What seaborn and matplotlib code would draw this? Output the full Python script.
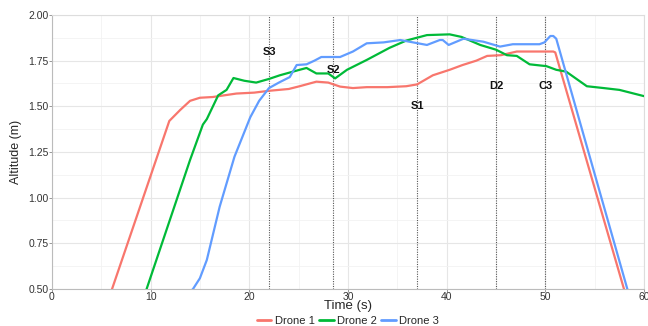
import numpy as np
import pandas as pd
import matplotlib
matplotlib.use("Agg")
import matplotlib.pyplot as plt
import seaborn as sns

# ---- data ----
drone1_t = [5.0, 6.1, 11.9, 13.0, 14.0, 15.0, 16.3, 18.7, 20.5, 22.0, 24.0, 25.1, 26.8, 28.0, 29.2,
            30.5, 31.9, 34.0, 35.9, 37.0, 38.6, 40.3, 41.6, 43.0, 44.1, 45.5, 47.1, 49.0, 50.8, 51.0,
            57.96, 58.5]
drone1_v = [0.32, 0.50, 1.42, 1.48, 1.53, 1.547, 1.551, 1.57, 1.575, 1.585, 1.595, 1.61, 1.635, 1.63, 1.608,
            1.60, 1.605, 1.605, 1.61, 1.62, 1.67, 1.70, 1.726, 1.75, 1.776, 1.78, 1.80, 1.80, 1.80, 1.795,
            0.50, 0.40]

drone2_t = [9.0, 9.6, 14.0, 15.3, 15.7, 16.85, 17.7, 18.4, 19.5, 20.7, 22.0, 23.1, 25.1, 25.8, 26.8,
            28.0, 28.7, 29.9, 31.9, 34.2, 35.9, 38.0, 40.3, 41.5, 43.4, 45.0, 46.1, 47.1, 48.4, 50.1,
            51.1, 52.1, 54.2, 55.9, 57.5, 59.9, 60.5]
drone2_v = [0.40, 0.50, 1.206, 1.40, 1.43, 1.56, 1.59, 1.655, 1.64, 1.63, 1.65, 1.67, 1.70, 1.71, 1.68,
            1.68, 1.653, 1.70, 1.754, 1.82, 1.86, 1.89, 1.894, 1.88, 1.836, 1.81, 1.78, 1.776, 1.73, 1.72,
            1.70, 1.69, 1.61, 1.60, 1.59, 1.557, 1.55]

drone3_t = [13.5, 14.3, 15.0, 15.7, 17.0, 18.5, 20.1, 21.0, 22.0, 23.0, 24.1, 24.8, 25.8, 26.6, 27.3,
            28.2, 29.2, 30.5, 31.9, 33.6, 35.3, 36.6, 38.0, 39.3, 39.6, 40.2, 41.7, 43.7, 45.4, 46.7,
            49.4, 49.9, 50.5, 50.8, 51.1, 58.3, 58.8]
drone3_v = [0.46, 0.50, 0.559, 0.659, 0.95, 1.224, 1.44, 1.53, 1.60, 1.63, 1.66, 1.726, 1.73, 1.75, 1.77,
            1.77, 1.77, 1.80, 1.845, 1.85, 1.863, 1.85, 1.836, 1.863, 1.863, 1.836, 1.87, 1.854, 1.827, 1.84,
            1.84, 1.85, 1.885, 1.885, 1.87, 0.50, 0.42]

series_names = ["Drone 1", "Drone 2", "Drone 3"]
colors = ["#F8766D", "#00BA38", "#619CFF"]

event_labels = ["S3", "S2", "S1", "D2", "C3"]
event_times = [22.0, 28.5, 37.0, 45.0, 50.0]
event_label_y = [1.80, 1.70, 1.50, 1.61, 1.61]

x_ticks = [0, 10, 20, 30, 40, 50, 60]
y_ticks = [0.50, 0.75, 1.00, 1.25, 1.50, 1.75, 2.00]

# ---- build table ----
frames = []
for name, t, v in zip(series_names, [drone1_t, drone2_t, drone3_t], [drone1_v, drone2_v, drone3_v]):
    frames.append(pd.DataFrame({"Time": t, "Altitude": v, "Series": name}))
df = pd.concat(frames, ignore_index=True)

sns.set_theme(style="white")
plt.rcParams["font.family"] = ["Liberation Sans", "DejaVu Sans"]

fig = plt.figure(figsize=(6.48, 3.26), dpi=100)
ax = fig.add_axes([0.080, 0.1135, 0.914, 0.8405])

# grid
ax.set_xticks(x_ticks)
ax.set_yticks(y_ticks)
ax.set_xticks(np.arange(5, 60, 10), minor=True)
ax.set_yticks(np.arange(0.625, 2.0, 0.25), minor=True)
ax.grid(which="major", color="#E6E6E6", linewidth=0.8)
ax.grid(which="minor", color="#F2F2F2", linewidth=0.6)
ax.set_axisbelow(True)

for xt, lab, ly in zip(event_times, event_labels, event_label_y):
    ax.axvline(xt, color="#555555", linestyle=(0, (1, 1.2)), linewidth=0.8, zorder=1.5)
    ax.text(xt, ly, lab, ha="center", va="center", fontsize=8, fontweight="bold", color="#111111", zorder=5)

sns.lineplot(data=df, x="Time", y="Altitude", hue="Series", palette=colors,
             hue_order=series_names, sort=False, estimator=None, linewidth=1.6, ax=ax, zorder=3)

ax.set_xlim(0, 60)
ax.set_ylim(0.5, 2.0)
ax.set_yticklabels([f"{v:.2f}" for v in y_ticks])

for s in ["top", "right"]:
    ax.spines[s].set_color("#DDDDDD")
    ax.spines[s].set_linewidth(0.8)
for s in ["left", "bottom"]:
    ax.spines[s].set_color("#BBBBBB")
    ax.spines[s].set_linewidth(0.8)

ax.tick_params(which="major", axis="both", length=2, width=0.6, color="#888888",
               labelsize=7.5, labelcolor="#333333", pad=0.5)
ax.tick_params(which="minor", length=0)
ax.tick_params(axis="both", which="major", left=True, bottom=True)

ax.set_xlabel("Time (s)", fontsize=9.5, va="center")
ax.xaxis.set_label_coords(0.5, -0.063)
ax.set_ylabel("Altitude (m)", fontsize=9, labelpad=4)

leg = ax.legend(loc="center", bbox_to_anchor=(0.5, -0.118), ncol=3, frameon=False,
                fontsize=8, handlelength=1.3, handletextpad=0.3, columnspacing=0.4,
                borderaxespad=0, borderpad=0.0)
for line in leg.get_lines():
    line.set_linewidth(2.0)

fig.savefig("out.png", dpi=100)
